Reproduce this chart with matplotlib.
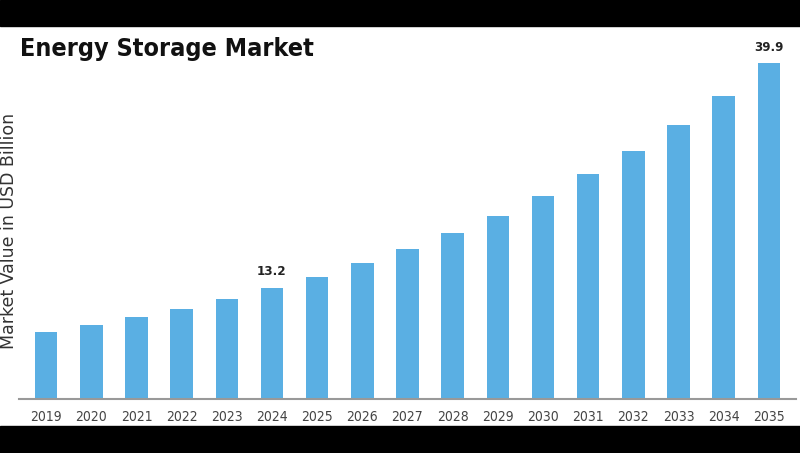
import matplotlib.pyplot as plt
from matplotlib.patches import Rectangle

years = ["2019", "2020", "2021", "2022", "2023", "2024", "2025", "2026", "2027",
         "2028", "2029", "2030", "2031", "2032", "2033", "2034", "2035"]
values = [7.95, 8.75, 9.67, 10.69, 11.84, 13.2, 14.5, 16.09, 17.76,
          19.66, 21.76, 24.1, 26.69, 29.5, 32.56, 36.04, 39.9]
labelled = {"2024": "13.2", "2035": "39.9"}

W, H = 800, 453


def main():
    fig = plt.figure(figsize=(W / 100, H / 100), dpi=100)
    fig.patch.set_facecolor("white")

    # letterbox bands top and bottom
    fig.patches.append(Rectangle((0, 1 - 26 / H), 1, 26 / H, transform=fig.transFigure,
                                 color="black", zorder=0))
    fig.patches.append(Rectangle((0, 0), 1, 27 / H, transform=fig.transFigure,
                                 color="black", zorder=0))

    ax = fig.add_axes([19 / W, (H - 398.5) / H, 777 / W, (398.5 - 45.7) / H])
    x = range(len(years))
    bars = ax.bar(x, values, width=0.5, color="#5aafe3")
    ax.set_xlim(-0.6, len(years) - 0.4)
    ax.set_ylim(0, 42)

    for b, yr in zip(bars, years):
        if yr in labelled:
            ax.text(b.get_x() + b.get_width() / 2, b.get_height() + 1.1, labelled[yr],
                    ha="center", va="bottom", fontsize=9.5, fontweight="bold",
                    fontstretch="condensed", color="#222222")

    for s in ["top", "right", "left"]:
        ax.spines[s].set_visible(False)
    ax.spines["bottom"].set_color("#999999")
    ax.spines["bottom"].set_linewidth(1.5)
    ax.set_yticks([])
    ax.set_xticks(list(x))
    ax.set_xticklabels(years, fontsize=10, fontstretch="condensed", color="#444444")
    ax.tick_params(axis="x", length=0, pad=8)

    fig.text(20 / W, (H - 56) / H, "Energy Storage Market", fontsize=18,
             fontweight="bold", fontstretch="condensed", color="#111111",
             ha="left", va="baseline")
    fig.text(9.5 / W, (H - 231) / H, "Market Value in USD Billion", fontsize=12.5,
             rotation=90, ha="center", va="center", color="#333333")

    fig.savefig("out.png", dpi=100)


if __name__ == '__main__':
    main()
